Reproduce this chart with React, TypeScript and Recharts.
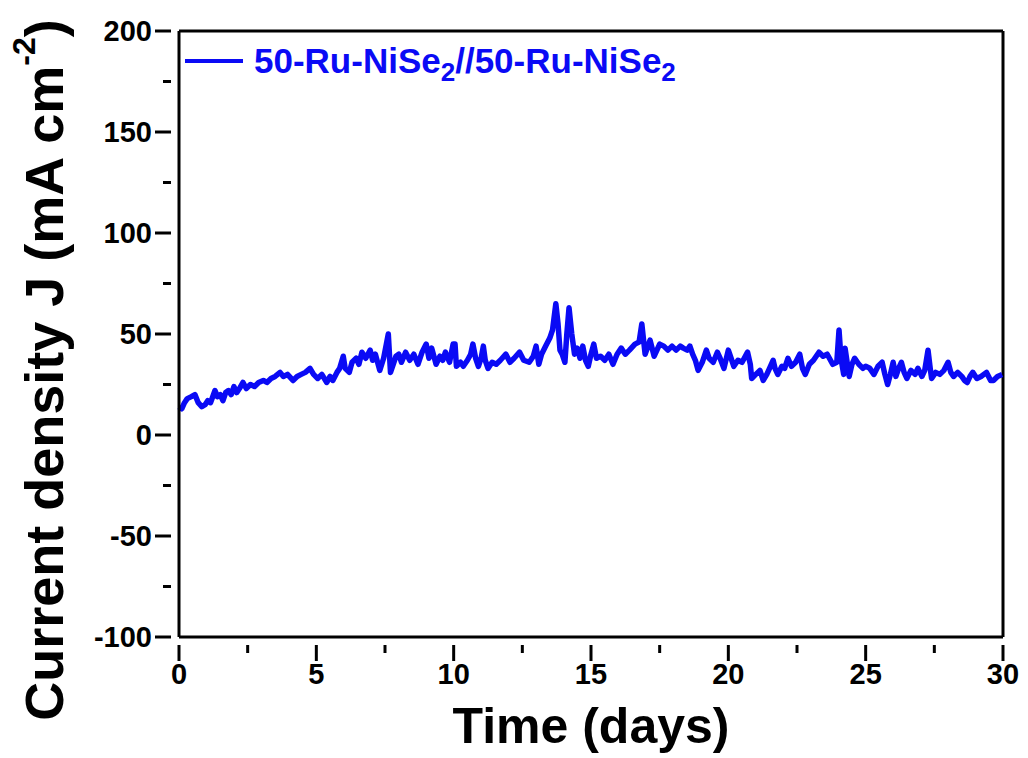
import { LineChart, Line, XAxis, YAxis, ReferenceLine } from 'recharts'

// time in days, current density in mA cm^-2
const days = [
  0.0, 0.1, 0.2, 0.3, 0.45, 0.58, 0.7, 0.83, 0.95, 1.05, 1.15, 1.31, 1.4, 1.5, 1.6, 1.7, 1.8, 1.9, 2.0, 2.1,
  2.2, 2.33, 2.45, 2.6, 2.75, 2.9, 3.07, 3.2, 3.35, 3.5, 3.68, 3.8, 3.95, 4.15, 4.3, 4.45, 4.6, 4.77, 4.9, 5.05,
  5.2, 5.38, 5.5, 5.6, 5.75, 5.85, 5.98, 6.05, 6.2, 6.3, 6.45, 6.55, 6.66, 6.8, 6.96, 7.05, 7.15, 7.31, 7.45, 7.55,
  7.62, 7.7, 7.8, 7.9, 8.0, 8.1, 8.25, 8.4, 8.55, 8.7, 8.85, 9.0, 9.1, 9.2, 9.36, 9.5, 9.6, 9.7, 9.85, 9.98,
  10.05, 10.1, 10.25, 10.35, 10.5, 10.62, 10.7, 10.8, 10.9, 11.0, 11.08, 11.15, 11.25, 11.4, 11.55, 11.7, 11.9, 12.05, 12.2, 12.4,
  12.55, 12.75, 12.9, 13.0, 13.1, 13.2, 13.35, 13.5, 13.6, 13.72, 13.8, 13.87, 13.95, 14.05, 14.12, 14.2, 14.3, 14.4, 14.5, 14.6,
  14.7, 14.8, 14.9, 15.0, 15.1, 15.2, 15.35, 15.5, 15.65, 15.8, 15.95, 16.1, 16.25, 16.4, 16.6, 16.75, 16.85, 16.97, 17.05, 17.15,
  17.3, 17.4, 17.5, 17.65, 17.8, 17.95, 18.1, 18.25, 18.36, 18.5, 18.6, 18.7, 18.8, 18.9, 19.05, 19.2, 19.3, 19.45, 19.6, 19.7,
  19.84, 20.0, 20.1, 20.2, 20.35, 20.5, 20.7, 20.8, 20.85, 21.0, 21.15, 21.27, 21.4, 21.5, 21.63, 21.7, 21.8, 21.95, 22.05, 22.17,
  22.3, 22.45, 22.6, 22.7, 22.8, 22.95, 23.1, 23.3, 23.45, 23.6, 23.8, 23.95, 24.03, 24.1, 24.2, 24.25, 24.4, 24.5, 24.6, 24.75,
  24.9, 25.0, 25.15, 25.3, 25.45, 25.6, 25.7, 25.8, 25.9, 26.0, 26.1, 26.2, 26.3, 26.4, 26.5, 26.65, 26.8, 26.9, 27.05, 27.15,
  27.27, 27.35, 27.4, 27.55, 27.7, 27.85, 28.0, 28.1, 28.2, 28.35, 28.5, 28.6, 28.7, 28.8, 28.9, 29.05, 29.2, 29.4, 29.55, 29.65,
  29.8, 29.97,
]
const current = [
  14, 13, 16, 18, 19, 20, 16, 14, 15, 17, 16, 22, 19, 20, 17, 21, 22, 20, 24, 21,
  23, 26, 23, 25, 24, 26, 27, 26, 28, 29, 31, 29, 30, 27, 29, 30, 31, 33, 30, 28,
  30, 26, 29, 27, 31, 33, 39, 33, 31, 36, 38, 35, 41, 38, 42, 37, 40, 32, 38, 45,
  50, 31, 35, 39, 40, 36, 41, 37, 40, 35, 41, 45, 38, 43, 35, 39, 37, 41, 36, 45,
  45, 34, 36, 34, 37, 40, 45, 38, 34, 38, 44, 37, 33, 36, 35, 37, 40, 36, 38, 41,
  37, 36, 39, 44, 35, 40, 44, 48, 52, 65, 55, 42, 40, 36, 50, 63, 50, 40, 43, 38,
  44, 37, 34, 40, 45, 38, 39, 37, 40, 35, 40, 43, 40, 42, 45, 46, 55, 40, 43, 47,
  39, 42, 45, 44, 42, 44, 42, 44, 43, 42, 44, 40, 37, 32, 36, 42, 38, 36, 41, 38,
  33, 42, 38, 34, 37, 36, 41, 35, 28, 30, 32, 27, 30, 33, 37, 33, 30, 34, 33, 38,
  34, 36, 40, 33, 30, 35, 37, 41, 39, 40, 35, 36, 52, 38, 30, 43, 29, 35, 38, 35,
  33, 34, 33, 30, 34, 36, 30, 25, 30, 36, 29, 33, 36, 31, 28, 32, 30, 33, 29, 32,
  42, 33, 28, 31, 30, 32, 36, 31, 29, 31, 29, 27, 26, 29, 31, 28, 29, 31, 27, 27,
  29, 30,
]

// major ticks get a label, minor ones only a short tick
const xMajorTicks = [0, 5, 10, 15, 20, 25, 30]
const xMinorTicks = [2.5, 7.5, 12.5, 17.5, 22.5, 27.5]
const yMajorTicks = [-100, -50, 0, 50, 100, 150, 200]
const yMinorTicks = [-75, -25, 25, 75, 125, 175]

const data = days.map((d, i) => ({ day: d, j: current[i] }))
const xTicks = [...xMajorTicks, ...xMinorTicks].sort((a, b) => a - b)
const yTicks = [...yMajorTicks, ...yMinorTicks].sort((a, b) => a - b)

const FONT = '"Liberation Sans", Arial, sans-serif'
const BLUE = '#0a0af5'
const labelStyle = { fill: '#000', fontSize: 29, fontWeight: 700, fontFamily: FONT }
const axisLine = { stroke: '#000', strokeWidth: 3 }

function XTick({ x, y, payload }: any) {
  const major = xMajorTicks.includes(payload.value)
  return (
    <g>
      <line x1={x} x2={x} y1={y} y2={y + (major ? 16 : 8)} stroke="#000" strokeWidth={3} />
      {major && (
        <text x={x} y={y + 29} textAnchor="middle" dominantBaseline="central" style={labelStyle}>
          {payload.value}
        </text>
      )}
    </g>
  )
}

function YTick({ x, y, payload }: any) {
  const major = yMajorTicks.includes(payload.value)
  return (
    <g>
      <line x1={x - (major ? 16 : 8)} x2={x} y1={y} y2={y} stroke="#000" strokeWidth={3} />
      {major && (
        <text x={x - 19} y={y} textAnchor="end" dominantBaseline="central" style={labelStyle}>
          {payload.value}
        </text>
      )}
    </g>
  )
}

function YTitle() {
  return (
    <text
      x={44}
      y={370}
      transform="rotate(-90 44 370)"
      textAnchor="middle"
      dominantBaseline="central"
      style={{ fontFamily: FONT, fontWeight: 700, fontSize: 54, fill: '#000' }}
    >
      Current density J (mA cm
      <tspan dy={-20} fontSize={32}>-2</tspan>
      <tspan dy={20}>)</tspan>
    </text>
  )
}

export default function App() {
  return (
    <div style={{ position: 'absolute', left: 0, top: 0, width: 1028, height: 758, background: '#fff' }}>
      <LineChart width={1028} height={758} data={data} margin={{ top: 31, right: 25, bottom: 61, left: 109 }}>
        <XAxis
          dataKey="day"
          type="number"
          domain={[0, 30]}
          ticks={xTicks}
          interval={0}
          height={60}
          tick={<XTick />}
          tickLine={false}
          axisLine={axisLine}
          label={{
            value: 'Time (days)',
            position: 'insideBottom',
            offset: -46,
            style: { fontFamily: FONT, fontWeight: 700, fontSize: 50, fill: '#000' },
          }}
        />
        <YAxis
          type="number"
          domain={[-100, 200]}
          ticks={yTicks}
          interval={0}
          width={70}
          tick={<YTick />}
          tickLine={false}
          axisLine={axisLine}
          label={{ content: () => <YTitle /> }}
        />
        <ReferenceLine y={200} stroke="#000" strokeWidth={3} />
        <ReferenceLine x={30} stroke="#000" strokeWidth={3} />
        <Line
          type="linear"
          dataKey="j"
          name="50-Ru-NiSe2//50-Ru-NiSe2"
          stroke={BLUE}
          strokeWidth={5.5}
          strokeLinejoin="round"
          dot={false}
          isAnimationActive={false}
        />
      </LineChart>
      <div
        style={{
          position: 'absolute',
          left: 185,
          top: 41,
          display: 'flex',
          alignItems: 'center',
          fontFamily: FONT,
          fontWeight: 700,
          color: BLUE,
          fontSize: 35,
          lineHeight: '40px',
        }}
      >
        <span style={{ display: 'inline-block', width: 58, height: 4, background: BLUE, marginRight: 11 }} />
        <span>
          50-Ru-NiSe<sub style={{ fontSize: 26, lineHeight: 0 }}>2</sub>//50-Ru-NiSe<sub style={{ fontSize: 26, lineHeight: 0 }}>2</sub>
        </span>
      </div>
    </div>
  )
}
